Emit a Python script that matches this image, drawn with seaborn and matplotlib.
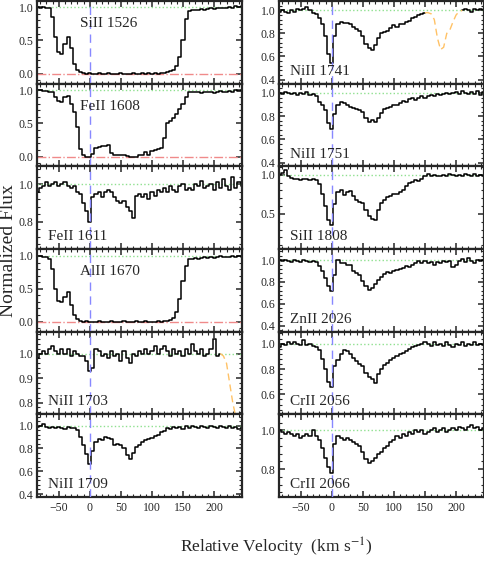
import numpy as np
import pandas as pd
import matplotlib
matplotlib.use("Agg")
import matplotlib.pyplot as plt
import seaborn as sns
from matplotlib.ticker import MultipleLocator, AutoMinorLocator

# Style
sns.set_style("ticks")
plt.rcParams["font.family"] = ["Liberation Serif", "DejaVu Serif"]
plt.rcParams["mathtext.fontset"] = "stix"
plt.rcParams["axes.linewidth"] = 1.6


# ---------- Data (velocity grid in km/s, normalized flux per transition) ----------
VELOCITY = np.arange(-85, 250, 5)
nan = np.nan

SiII_1526 = [1.00, 0.99, 1.00, 0.99, 0.98, 0.85, 0.55, 0.33, 0.30, 0.45,
             0.55, 0.38, 0.15, 0.05, 0.02, 0.01, 0.00, 0.01, -0.01, 0.00,
             0.01, 0.00, -0.01, 0.01, 0.00, 0.00, -0.01, 0.01, 0.00, -0.01,
             0.00, 0.01, -0.01, 0.00, 0.01, 0.00, 0.01, -0.01, 0.01, 0.00,
             0.01, 0.01, 0.02, 0.04, 0.06, 0.12, 0.25, 0.50, 0.82, 0.94,
             0.95, 0.96, 0.96, 0.97, 0.96, 0.97, 0.98, 0.97, 0.98, 0.99,
             0.98, 0.99, 1.00, 0.99, 1.01, 1.00, 1.01]

FeII_1608 = [1.00, 1.00, 0.99, 0.99, 0.98, 0.97, 0.90, 0.84, 0.83, 0.90,
             0.92, 0.80, 0.68, 0.45, 0.12, 0.03, 0.00, 0.00, 0.04, 0.13,
             0.15, 0.16, 0.16, 0.17, 0.06, 0.03, 0.03, 0.03, 0.02, 0.01,
             0.00, -0.01, 0.00, 0.02, 0.03, 0.07, 0.02, 0.08, 0.10, 0.12,
             0.13, 0.28, 0.50, 0.53, 0.58, 0.65, 0.72, 0.80, 0.90, 0.98,
             0.98, 0.97, 0.98, 0.96, 0.98, 0.97, 0.98, 0.96, 0.98, 0.99,
             0.97, 0.98, 0.99, 0.98, 1.00, 0.99, 1.00]

FeII_1611 = [0.96, 0.98, 0.99, 1.01, 0.99, 1.00, 1.01, 0.99, 1.00, 1.01,
             0.99, 0.98, 0.99, 0.96, 0.95, 0.90, 0.86, 0.80, 0.93, 0.95,
             0.96, 0.93, 0.96, 0.97, 0.96, 0.93, 0.91, 0.90, 0.91, 0.88,
             0.86, 0.82, 0.94, 0.95, 0.93, 0.95, 0.92, 0.96, 0.94, 0.97,
             0.96, 0.98, 0.96, 0.99, 0.97, 0.96, 0.99, 1.00, 0.97, 0.98,
             0.97, 1.00, 0.99, 1.02, 0.98, 0.99, 1.00, 0.97, 1.01, 0.98,
             1.03, 0.99, 0.97, 1.04, 0.98, 1.01, 0.99]

AlII_1670 = [1.00, 1.00, 0.99, 0.99, 0.96, 0.80, 0.50, 0.32, 0.30, 0.38,
             0.45, 0.25, 0.10, 0.04, 0.01, 0.00, 0.01, 0.00, -0.01, 0.00,
             0.01, 0.00, -0.01, 0.00, 0.01, 0.00, -0.01, 0.00, 0.01, 0.00,
             -0.01, 0.00, 0.01, 0.00, -0.01, 0.01, 0.00, 0.00, -0.01, 0.01,
             0.00, 0.01, 0.01, 0.03, 0.06, 0.14, 0.35, 0.62, 0.85, 0.95,
             0.96, 0.97, 0.96, 0.97, 0.98, 0.97, 0.98, 0.97, 0.99, 1.00,
             0.98, 0.99, 0.98, 1.00, 0.99, 1.00, 0.99]

NiII_1703 = [0.98, 1.00, 1.01, 1.00, 1.02, 1.03, 1.01, 1.00, 1.02, 1.00,
             1.02, 0.99, 1.01, 1.00, 0.99, 0.99, 0.97, 0.93, 0.94, 1.02,
             1.01, 0.99, 1.00, 0.98, 1.01, 0.99, 1.00, 0.97, 1.01, 0.98,
             0.96, 1.00, 0.99, 1.01, 1.00, 1.02, 1.00, 1.01, 1.03, 1.00,
             1.02, 1.03, 1.01, 0.99, 1.02, 1.00, 1.01, 0.99, 1.02, 1.00,
             1.04, 1.01, 1.00, 1.02, 0.99, 1.00, 1.02, 1.06, 0.99, 1.00,
             nan, nan, nan, nan, nan, nan, nan]

NiII_1709 = [0.99, 1.00, 1.01, 0.99, 0.98, 0.99, 0.98, 0.99, 0.98, 0.97,
             0.99, 0.98, 0.98, 0.96, 0.90, 0.83, 0.75, 0.66, 0.78, 0.86,
             0.88, 0.87, 0.90, 0.89, 0.88, 0.83, 0.84, 0.83, 0.80, 0.74,
             0.71, 0.76, 0.81, 0.83, 0.86, 0.87, 0.88, 0.89, 0.91, 0.92,
             0.94, 0.95, 0.98, 0.97, 0.99, 0.98, 0.99, 0.97, 1.00, 0.98,
             1.00, 0.99, 0.98, 1.00, 0.99, 0.98, 1.00, 0.99, 0.98, 1.00,
             0.99, 0.98, 1.00, 0.98, 0.99, 0.97, 0.99]

NiII_1741 = [0.99, 1.00, 0.99, 0.98, 1.00, 0.99, 1.01, 1.00, 1.01, 1.03,
             1.00, 0.98, 0.97, 0.93, 0.88, 0.78, 0.62, 0.54, 0.78, 0.88,
             0.90, 0.89, 0.89, 0.88, 0.86, 0.84, 0.82, 0.78, 0.71, 0.67,
             0.66, 0.70, 0.76, 0.80, 0.81, 0.82, 0.85, 0.87, 0.86, 0.88,
             0.88, 0.90, 0.91, 0.93, 0.94, 0.96, 0.97, 0.98, nan, nan,
             nan, nan, nan, nan, nan, nan, nan, nan, nan, 1.00,
             1.01, 1.00, 0.99, 1.01, 1.00, 1.01, 1.00]

NiII_1751 = [1.00, 0.99, 1.01, 1.00, 0.99, 1.00, 0.98, 1.00, 0.99, 1.01,
             0.98, 0.99, 0.97, 0.92, 0.90, 0.85, 0.74, 0.69, 0.82, 0.90,
             0.92, 0.91, 0.90, 0.88, 0.87, 0.86, 0.85, 0.84, 0.78, 0.75,
             0.77, 0.75, 0.78, 0.83, 0.86, 0.87, 0.88, 0.90, 0.90, 0.91,
             0.93, 0.92, 0.95, 0.96, 0.94, 0.96, 0.97, 0.96, 0.97, 0.98,
             0.97, 0.99, 0.98, 0.99, 1.00, 0.99, 1.00, 1.01, 0.99, 1.02,
             1.00, 0.99, 1.01, 0.99, 1.02, 0.98, 1.01]

SiII_1808 = [1.00, 1.02, 1.06, 0.99, 0.96, 0.94, 0.95, 0.93, 0.94, 0.94,
             0.93, 0.94, 0.93, 0.88, 0.75, 0.60, 0.42, 0.36, 0.62, 0.78,
             0.80, 0.74, 0.78, 0.79, 0.73, 0.68, 0.65, 0.64, 0.55, 0.47,
             0.44, 0.42, 0.55, 0.64, 0.68, 0.71, 0.73, 0.75, 0.76, 0.78,
             0.81, 0.86, 0.90, 0.91, 0.93, 0.92, 0.95, 0.98, 1.01, 0.99,
             1.00, 0.98, 0.99, 1.00, 0.99, 1.01, 1.00, 0.98, 1.00, 0.99,
             1.01, 1.00, 0.99, 1.01, 0.98, 1.00, 0.99]

ZnII_2026 = [1.00, 0.99, 1.00, 0.99, 0.98, 1.00, 0.99, 0.98, 1.00, 0.99,
             0.98, 0.99, 0.98, 0.95, 0.90, 0.84, 0.76, 0.72, 0.86, 1.00,
             0.97, 0.97, 0.96, 0.96, 0.90, 0.88, 0.86, 0.81, 0.76, 0.73,
             0.74, 0.78, 0.82, 0.85, 0.87, 0.89, 0.88, 0.90, 0.91, 0.92,
             0.93, 0.95, 0.94, 0.96, 0.97, 0.99, 0.97, 0.99, 0.97, 0.98,
             0.96, 0.98, 0.97, 0.99, 0.98, 0.99, 0.94, 0.96, 0.99, 1.01,
             0.98, 1.02, 0.99, 0.97, 1.00, 0.99, 1.00]

CrII_2056 = [0.97, 1.00, 0.99, 1.01, 1.00, 1.01, 1.00, 0.99, 1.03, 0.99,
             1.00, 0.98, 0.97, 0.95, 0.88, 0.80, 0.70, 0.66, 0.82, 0.87,
             0.92, 0.95, 0.94, 0.92, 0.89, 0.86, 0.84, 0.82, 0.77, 0.74,
             0.72, 0.69, 0.76, 0.80, 0.83, 0.85, 0.87, 0.89, 0.90, 0.92,
             0.93, 0.94, 0.96, 0.97, 0.98, 0.99, 1.00, 1.01, 1.00, 0.98,
             1.01, 0.99, 1.00, 0.98, 1.01, 0.99, 0.97, 1.00, 0.99, 1.01,
             0.98, 1.00, 0.99, 1.01, 0.99, 1.00, 0.99]

CrII_2066 = [1.00, 0.99, 0.98, 0.99, 0.98, 0.97, 0.98, 0.96, 0.97, 0.98,
             0.97, 1.00, 0.97, 0.95, 0.91, 0.86, 0.81, 0.78, 0.93, 0.97,
             0.96, 0.95, 0.96, 0.95, 0.94, 0.93, 0.92, 0.89, 0.85, 0.83,
             0.84, 0.86, 0.88, 0.89, 0.91, 0.92, 0.94, 0.95, 0.97, 0.96,
             0.98, 0.97, 0.99, 0.98, 1.00, 0.99, 1.00, 0.98, 0.99, 1.00,
             1.01, 0.99, 1.00, 1.01, 0.99, 1.00, 1.01, 1.00, 1.02, 1.01,
             1.00, 1.02, 1.03, 1.01, 1.02, 1.00, 1.01]

# blended features from other lines (dashed orange)
BLEND_1703_VEL = [210, 215, 220, 225, 230, 235, 240, 245]
BLEND_1703_FLUX = [1.00, 0.99, 0.96, 0.88, 0.80, 0.74, 0.72, 0.72]
BLEND_1741_VEL = [150, 155, 160, 165, 170, 175, 180, 185, 190, 195, 200, 205, 210]
BLEND_1741_FLUX = [0.98, 0.98, 0.97, 0.92, 0.76, 0.66, 0.68, 0.80, 0.83, 0.90, 0.96, 0.99, 1.00]


# ---------- Panel layout: (label, flux, ylim, y major step, label place, saturated, blend) ----------
LEFT = [
    ("SiII 1526", SiII_1526, (-0.15, 1.09), 0.5, "top", True, None),
    ("FeII 1608", FeII_1608, (-0.15, 1.1), 0.5, "top", True, None),
    ("FeII 1611", FeII_1611, (0.655, 1.095), 0.2, "bottom", False, None),
    ("AlII 1670", AlII_1670, (-0.155, 1.105), 0.5, "top", True, None),
    ("NiII 1703", NiII_1703, (0.752, 1.089), 0.1, "bottom", False,
     (BLEND_1703_VEL, BLEND_1703_FLUX)),
    ("NiII 1709", NiII_1709, (0.374, 1.099), 0.2, "bottom", False, None),
]
RIGHT = [
    ("NiII 1741", NiII_1741, (0.363, 1.08), 0.2, "bottom", False,
     (BLEND_1741_VEL, BLEND_1741_FLUX)),
    ("NiII 1751", NiII_1751, (0.368, 1.078), 0.2, "bottom", False, None),
    ("SiII 1808", SiII_1808, (0.05, 1.106), 0.5, "bottom", False, None),
    ("ZnII 2026", ZnII_2026, (0.343, 1.102), 0.2, "bottom", False, None),
    ("CrII 2056", CrII_2056, (0.443, 1.094), 0.2, "bottom", False, None),
    ("CrII 2066", CrII_2066, (0.656, 1.083), 0.2, "bottom", False, None),
]


def draw_panel(ax, label, flux, ylim, ystep, place, saturated, blend, bottom_row):
    df = pd.DataFrame({"velocity": VELOCITY, "flux": flux})
    df["segment"] = df["flux"].isna().cumsum()
    df = df.dropna()

    ax.axhline(1.0, color="#8fe08f", ls=":", lw=1.0, zorder=1)
    if saturated:
        ax.axhline(0.0, color="#f08a8a", ls="-.", lw=1.0, zorder=1)

    sns.lineplot(data=df, x="velocity", y="flux", units="segment", estimator=None,
                 drawstyle="steps-mid", color="black", lw=1.1, ax=ax, legend=False,
                 zorder=2)
    if blend is not None:
        sns.lineplot(x=blend[0], y=blend[1], color="#ffc266", lw=1.0,
                     linestyle=(0, (5, 3)), ax=ax, zorder=2)

    ax.axvline(0.0, color="#8888ff", ls=(0, (6, 4)), lw=1.0, zorder=3)

    ax.set_xlim(-85, 245)
    ax.set_ylim(*ylim)
    ax.xaxis.set_major_locator(MultipleLocator(50))
    ax.xaxis.set_minor_locator(MultipleLocator(10))
    ax.yaxis.set_major_locator(MultipleLocator(ystep))
    ax.yaxis.set_minor_locator(AutoMinorLocator(5))
    ax.tick_params(which="both", direction="in", top=True, right=True, labelsize=8.5)
    ax.tick_params(which="major", length=4.5, width=1.1)
    ax.tick_params(which="minor", length=2.2, width=0.8)
    ax.tick_params(axis="y", pad=2.5)
    ax.set_xlabel("")
    ax.set_ylabel("")
    if not bottom_row:
        ax.tick_params(labelbottom=False)

    if place == "top":
        ax.text(0.21, 0.73, label, transform=ax.transAxes, fontsize=11, va="center")
    else:
        ax.text(0.055, 0.15, label, transform=ax.transAxes, fontsize=11, va="center")


fig, axes = plt.subplots(6, 2, figsize=(4.85, 5.81), dpi=100)
fig.subplots_adjust(left=0.0763, right=0.998, top=0.998, bottom=0.1446,
                    hspace=0.0, wspace=0.18)

for col, panels in enumerate([LEFT, RIGHT]):
    for row, p in enumerate(panels):
        draw_panel(axes[row, col], *p, bottom_row=(row == 5))

fig.text(0.017, 0.568, "Normalized Flux", rotation=90, fontsize=14,
         ha="center", va="center")
fig.text(0.569, 0.0585, "Relative Velocity  (km s$^{-1}$)", fontsize=12.5,
         ha="center", va="center")

fig.savefig("out.png", dpi=100)
